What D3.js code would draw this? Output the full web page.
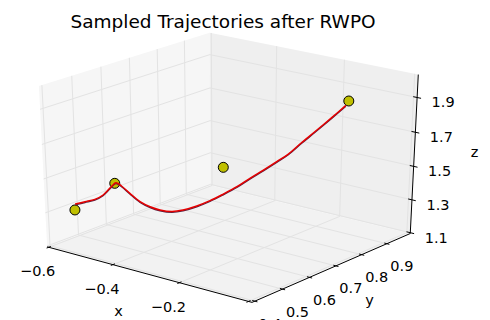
<!DOCTYPE html>
<html><head><meta charset="utf-8">
<script src="https://cdn.jsdelivr.net/npm/d3@7"></script>
<style>body{margin:0;background:#fff}text{font-family:"DejaVu Sans",sans-serif;fill:#000}</style>
</head><body>
<svg id="s" width="490" height="320"></svg>
<script>
// ---- data ----
const title = "Sampled Trajectories after RWPO";
const trajX = [-0.569,-0.545,-0.522,-0.503,-0.489,-0.481,-0.463,-0.437,-0.403,-0.385,-0.368,-0.347,-0.334,-0.320,-0.305,-0.288,-0.266,-0.242,-0.208,-0.175,-0.141,-0.114,-0.092,-0.070,-0.041];
const trajY = [0.454,0.462,0.471,0.479,0.495,0.500,0.499,0.498,0.494,0.508,0.523,0.541,0.565,0.598,0.628,0.656,0.679,0.697,0.704,0.711,0.710,0.724,0.743,0.777,0.789];
const trajZ = [1.33,1.35,1.37,1.40,1.45,1.47,1.46,1.43,1.40,1.37,1.35,1.34,1.34,1.35,1.37,1.40,1.44,1.49,1.55,1.61,1.67,1.74,1.80,1.872,1.945];
const viaX = [-0.565,-0.480,-0.252,-0.053];
const viaY = [0.448,0.495,0.612,0.816];
const viaZ = [1.30,1.47,1.60,1.95];
const xTicks = [-0.6,-0.4,-0.2,0.0];
const yTicks = [0.4,0.5,0.6,0.7,0.8,0.9];
const zTicks = [1.1,1.3,1.5,1.7,1.9];
const xLim = [-0.605,0.01], yLim = [0.39,0.995], zLim = [1.095,2.03];

// ---- projection (matplotlib-style perspective) ----
const elev = 26, azim = -51.5, dist = 10;
const nxS = d3.scaleLinear().domain(xLim).range([-0.5,0.5]);
const nyS = d3.scaleLinear().domain(yLim).range([-0.5,0.5]);
const nzS = d3.scaleLinear().domain(zLim).range([-0.5,0.5]);
const sxS = d3.scaleLinear().domain([-0.095,0.09]).range([-20.89,467.65]);
const syS = d3.scaleLinear().domain([-0.095,0.09]).range([330.83,1.98]);
const e = elev*Math.PI/180, a = azim*Math.PI/180;
const N = [Math.cos(e)*Math.cos(a), Math.cos(e)*Math.sin(a), Math.sin(e)];
const U = [-Math.sin(a), Math.cos(a), 0];
const V = [-Math.sin(e)*Math.cos(a), -Math.sin(e)*Math.sin(a), Math.cos(e)];
const dot = (p,q)=>p[0]*q[0]+p[1]*q[1]+p[2]*q[2];
function P(x,y,z){
  const d=[nxS(x),nyS(y),nzS(z)];
  const w=dist-dot(N,d);
  return [sxS(dot(U,d)/w), syS(dot(V,d)/w)];
}

const svg = d3.select('#s');
const [x0,x1]=xLim,[y0,y1]=yLim,[z0,z1]=zLim;
const poly = pts => pts.map(p=>P(...p).join(',')).join(' ');

// panes
svg.append('polygon').attr('points',poly([[x0,y0,z0],[x0,y1,z0],[x0,y1,z1],[x0,y0,z1]])).attr('fill','#f6f6f6');
svg.append('polygon').attr('points',poly([[x0,y1,z0],[x1,y1,z0],[x1,y1,z1],[x0,y1,z1]])).attr('fill','#efefef');
svg.append('polygon').attr('points',poly([[x0,y0,z0],[x1,y0,z0],[x1,y1,z0],[x0,y1,z0]])).attr('fill','#f2f2f2');

// grid
const grid = svg.append('g').attr('stroke','#e3e3e3').attr('stroke-width',1).attr('fill','none');
const seg = (g,p,q)=>{const A=P(...p),B=P(...q);g.append('line').attr('x1',A[0]).attr('y1',A[1]).attr('x2',B[0]).attr('y2',B[1]);};
xTicks.forEach(x=>{seg(grid,[x,y0,z0],[x,y1,z0]);seg(grid,[x,y1,z0],[x,y1,z1]);});
yTicks.forEach(y=>{seg(grid,[x0,y,z0],[x1,y,z0]);seg(grid,[x0,y,z0],[x0,y,z1]);});
zTicks.forEach(z=>{seg(grid,[x0,y0,z],[x0,y1,z]);seg(grid,[x0,y1,z],[x1,y1,z]);});

// axes
const ax = svg.append('g').attr('stroke','#000').attr('stroke-width',1);
seg(ax,[x0,y0,z0],[x1,y0,z0]);
seg(ax,[x1,y0,z0],[x1,y1,z0]);
seg(ax,[x1,y1,z0],[x1,y1,z1]);
const dy=(y1-y0)*0.012, dx=(x1-x0)*0.012;
xTicks.forEach(x=>seg(ax,[x,y0+dy,z0],[x,y0-dy,z0]));
yTicks.forEach(y=>seg(ax,[x1-dx,y,z0],[x1+dx,y,z0]));
zTicks.forEach(z=>seg(ax,[x1-dx*1.5,y1,z],[x1+dx*1.5,y1,z]));

const fmt = v => d3.format('.1f')(v).replace('-','\u2212');
const lab = svg.append('g').attr('font-size',14.5).attr('text-anchor','middle').attr('dominant-baseline','central');
xTicks.forEach(x=>{const p=P(x,y0,z0);lab.append('text').attr('x',p[0]-11).attr('y',p[1]+24).text(fmt(x));});
yTicks.forEach(y=>{const p=P(x1,y,z0);lab.append('text').attr('x',p[0]+15).attr('y',p[1]+22.5).text(fmt(y));});
zTicks.forEach(z=>{const p=P(x1,y1,z);lab.append('text').attr('x',p[0]+26).attr('y',p[1]+5).text(fmt(z));});
lab.append('text').attr('x',118.5).attr('y',311).text('x');
lab.append('text').attr('x',369.5).attr('y',300).text('y');
lab.append('text').attr('x',474.5).attr('y',152).text('z');

svg.append('text').attr('x',223).attr('y',28).attr('text-anchor','middle').attr('font-size',18.5).text(title);

// via points
svg.append('g').selectAll('circle').data(viaX.map((x,i)=>P(x,viaY[i],viaZ[i]))).join('circle')
  .attr('cx',d=>d[0]).attr('cy',d=>d[1]).attr('r',5).attr('fill','#bfbf00').attr('stroke','#000').attr('stroke-width',1);

// trajectory
const pts = trajX.map((x,i)=>P(x,trajY[i],trajZ[i]));
const line = d3.line().curve(d3.curveCatmullRom.alpha(0.5));
svg.append('path').attr('d',line(pts)).attr('fill','none').attr('stroke','#5a2040').attr('stroke-width',1.3).attr('transform','translate(0,0.8)');
svg.append('path').attr('d',line(pts)).attr('fill','none').attr('stroke','#e60000').attr('stroke-width',1.5);
</script></body></html>
